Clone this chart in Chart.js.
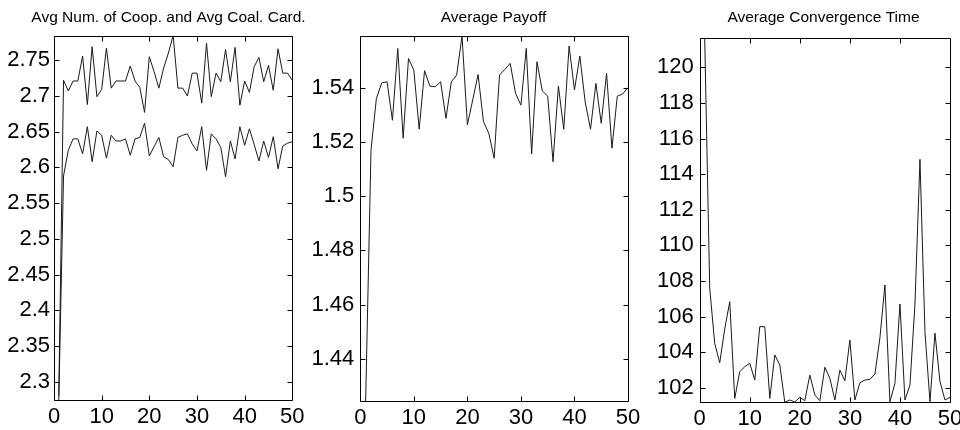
<!DOCTYPE html>
<html>
<head>
<meta charset="utf-8">
<script src="https://cdn.jsdelivr.net/npm/chart.js@4.4.1/dist/chart.umd.min.js"></script>
<style>
  html, body { margin: 0; padding: 0; background: #fff; width: 960px; height: 430px; overflow: hidden; position: relative; }
  canvas { position: absolute; top: 0; }
</style>
</head>
<body>
<canvas id="coopChart"></canvas>
<canvas id="payoffChart"></canvas>
<canvas id="timeChart"></canvas>
<script>
// Simulation runs (x axis)
const steps = [1, 2, 3, 4, 5, 6, 7, 8, 9, 10, 11, 12, 13, 14, 15, 16, 17, 18, 19, 20,
  21, 22, 23, 24, 25, 26, 27, 28, 29, 30, 31, 32, 33, 34, 35, 36, 37, 38, 39, 40,
  41, 42, 43, 44, 45, 46, 47, 48, 49, 50];

// Average coalition cardinality (upper curve)
const coalCard = [2.280, 2.722, 2.707, 2.721, 2.721, 2.756, 2.688, 2.769, 2.699, 2.709,
  2.767, 2.711, 2.721, 2.721, 2.721, 2.742, 2.721, 2.712, 2.677, 2.755,
  2.734, 2.711, 2.739, 2.760, 2.7844, 2.711, 2.711, 2.700, 2.732, 2.732,
  2.690, 2.774, 2.699, 2.732, 2.720, 2.765, 2.720, 2.768, 2.687, 2.721,
  2.705, 2.741, 2.754, 2.720, 2.743, 2.708, 2.766, 2.732, 2.732, 2.722];

// Average number of cooperators (lower curve)
const numCoop = [2.274, 2.588, 2.624, 2.640, 2.640, 2.619, 2.657, 2.608, 2.651, 2.645,
  2.613, 2.645, 2.637, 2.637, 2.640, 2.617, 2.640, 2.642, 2.662, 2.616,
  2.629, 2.642, 2.615, 2.611, 2.601, 2.642, 2.645, 2.647, 2.633, 2.623,
  2.657, 2.596, 2.647, 2.640, 2.628, 2.587, 2.637, 2.612, 2.657, 2.631,
  2.654, 2.632, 2.609, 2.637, 2.614, 2.643, 2.598, 2.630, 2.634, 2.636];

// Average payoff
const payoff = [1.4243, 1.5170, 1.5360, 1.5418, 1.5422, 1.5280, 1.5545, 1.5214, 1.5508, 1.5465,
  1.5247, 1.5463, 1.5406, 1.5404, 1.5422, 1.5287, 1.5422, 1.5447, 1.5591, 1.5263,
  1.5355, 1.5449, 1.5275, 1.5232, 1.5140, 1.5447, 1.5468, 1.5490, 1.5379, 1.5336,
  1.5545, 1.5156, 1.5496, 1.5388, 1.5369, 1.5127, 1.5406, 1.5247, 1.5554, 1.5392,
  1.5517, 1.5348, 1.5247, 1.5416, 1.5269, 1.5453, 1.5177, 1.5369, 1.5377, 1.5401];

// Average convergence time
const convTime = [121.63, 107.60, 104.49, 103.40, 105.30, 106.83, 101.40, 102.90, 103.18, 103.37,
  102.43, 105.43, 105.43, 101.40, 103.84, 103.28, 101.18, 101.31, 101.20, 101.46,
  101.27, 102.71, 101.59, 101.27, 103.15, 102.53, 101.31, 102.99, 102.39, 104.68,
  101.31, 102.28, 102.43, 102.47, 102.77, 104.80, 107.77, 101.21, 102.25, 106.70,
  101.31, 102.15, 106.70, 114.83, 105.10, 101.21, 105.06, 102.34, 101.31, 101.46];

// Tick labels
const xTicks = [0, 10, 20, 30, 40, 50];
const coopTicks = [2.3, 2.35, 2.4, 2.45, 2.5, 2.55, 2.6, 2.65, 2.7, 2.75];
const payoffTicks = [1.44, 1.46, 1.48, 1.5, 1.52, 1.54];
const timeTicks = [102, 104, 106, 108, 110, 112, 114, 116, 118, 120];

const FONT = "'Liberation Sans', Arial, Helvetica, sans-serif";
const CANVAS_H = 430;
const TITLE_SIZE = 15.5, TICK_SIZE = 22, TICK_MARK = 5;

// Axes box with inward tick marks on all four sides
const boxPlugin = {
  id: 'boxedAxes',
  afterDatasetsDraw(chart) {
    const { ctx, chartArea: a, scales: { x, y } } = chart;
    const snap = v => Math.round(v) + 0.5;
    const L = snap(a.left), R = snap(a.right), T = snap(a.top), B = snap(a.bottom);
    ctx.save();
    ctx.strokeStyle = '#000';
    ctx.lineWidth = 1;
    ctx.beginPath();
    ctx.rect(L, T, R - L, B - T);
    x.ticks.forEach(t => {
      const px = snap(x.getPixelForValue(t.value));
      ctx.moveTo(px, B); ctx.lineTo(px, B - TICK_MARK);
      ctx.moveTo(px, T); ctx.lineTo(px, T + TICK_MARK);
    });
    y.ticks.forEach(t => {
      const py = snap(y.getPixelForValue(t.value));
      ctx.moveTo(L, py); ctx.lineTo(L + TICK_MARK, py);
      ctx.moveTo(R, py); ctx.lineTo(R - TICK_MARK, py);
    });
    ctx.stroke();
    ctx.restore();
  }
};

const noGrid = { display: false, drawTicks: false, tickLength: 0 };

// frame: canvas left/width (title is centred on the canvas); area: plot rectangle in page pixels
function makePanel(id, title, seriesList, yTicks, frame, area, yLabelPad) {
  const canvas = document.getElementById(id);
  canvas.width = frame.width;
  canvas.height = CANVAS_H;
  canvas.style.left = frame.left + 'px';

  const all = seriesList.flat();
  const yMin = Math.min(...all), yMax = Math.max(...all);
  const leftW = area.left - frame.left;
  const rightW = frame.left + frame.width - area.right;

  new Chart(canvas, {
    type: 'line',
    data: {
      labels: steps,
      datasets: seriesList.map(s => ({
        data: s,
        borderColor: '#1a1a1a',
        borderWidth: 1,
        pointRadius: 0,
        tension: 0,
        fill: false
      }))
    },
    options: {
      responsive: false,
      animation: false,
      events: [],
      layout: { padding: 0 },
      plugins: {
        legend: { display: false },
        tooltip: { enabled: false },
        title: {
          display: true,
          text: title,
          fullSize: true,
          color: '#000',
          font: { family: FONT, size: TITLE_SIZE, weight: 'normal' },
          padding: { top: 8.6, bottom: area.top - 8.6 - TITLE_SIZE * 1.2 }
        }
      },
      scales: {
        x: {
          type: 'linear',
          min: 0, max: 50,
          bounds: 'data',
          grid: noGrid,
          border: { display: false },
          afterBuildTicks: s => { s.ticks = xTicks.map(v => ({ value: v })); },
          afterFit: s => { s.height = CANVAS_H - area.bottom; },
          ticks: {
            color: '#000',
            padding: 3,
            maxRotation: 0,
            font: { family: FONT, size: TICK_SIZE },
            callback: v => String(v)
          }
        },
        y: {
          type: 'linear',
          position: 'left',
          min: yMin, max: yMax,
          bounds: 'data',
          grid: noGrid,
          border: { display: false },
          afterBuildTicks: s => { s.ticks = yTicks.map(v => ({ value: v })); },
          afterFit: s => { s.width = leftW; },
          ticks: {
            color: '#000',
            padding: yLabelPad,
            font: { family: FONT, size: TICK_SIZE },
            callback: v => String(v)
          }
        },
        // empty right-hand axis that only reserves the margin right of the plot
        yRight: {
          type: 'linear',
          position: 'right',
          min: yMin, max: yMax,
          grid: noGrid,
          border: { display: false },
          ticks: { display: false },
          afterFit: s => { s.width = rightW; }
        }
      }
    },
    plugins: [boxPlugin]
  });
}

makePanel('coopChart', 'Avg Num. of Coop. and Avg Coal. Card.', [coalCard, numCoop], coopTicks,
  { left: 0, width: 337 }, { left: 54, right: 292.3, top: 35.7, bottom: 400.3 }, 4);
makePanel('payoffChart', 'Average Payoff', [payoff], payoffTicks,
  { left: 300, width: 387 }, { left: 360.3, right: 628, top: 36, bottom: 401.3 }, 6);
makePanel('timeChart', 'Average Convergence Time', [convTime], timeTicks,
  { left: 650, width: 347 }, { left: 699.7, right: 950, top: 38.3, bottom: 402.3 }, 6);
</script>
</body>
</html>
